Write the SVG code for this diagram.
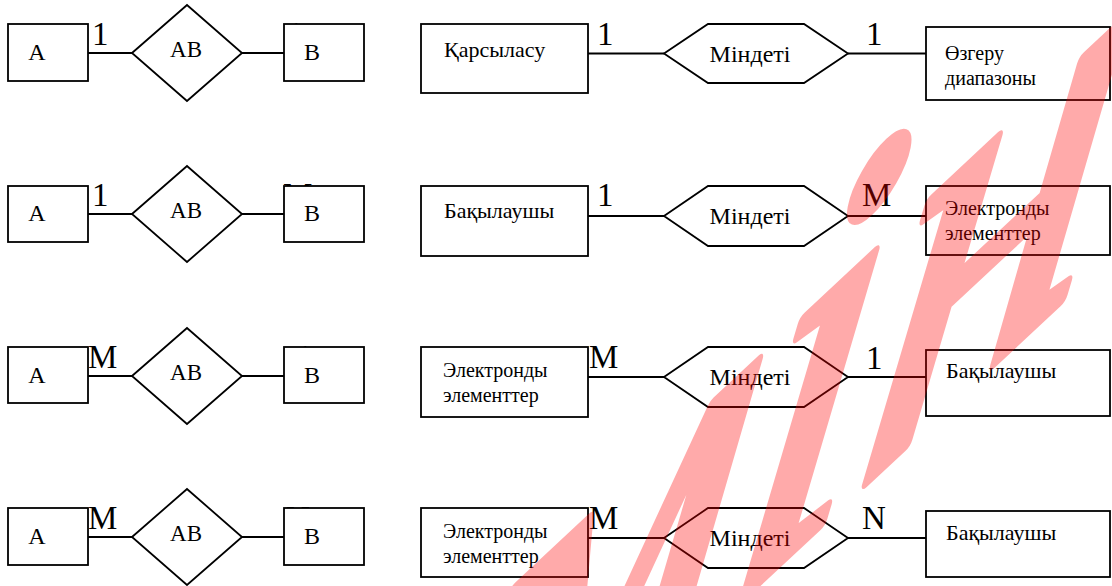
<svg xmlns="http://www.w3.org/2000/svg" width="1112" height="586" viewBox="0 0 1112 586">
  <style>
    .box { fill: #ffffff; stroke: #000000; stroke-width: 1.8; }
    .rel { fill: #ffffff; stroke: #000000; stroke-width: 1.8; stroke-linejoin: miter; }
    .edge { stroke: #000000; stroke-width: 1.8; fill: none; }
    text { font-family: "Liberation Serif", "Times New Roman", serif; fill: #000000; }
    .ent { font-size: 24px; text-anchor: middle; }
    .relt { font-size: 23px; text-anchor: middle; }
    .hext { font-size: 24px; text-anchor: middle; }
    .card { font-size: 33px; }
    .lbl { font-size: 22px; }
    .lbl2 { font-size: 20px; }
    .mark { font-family: "Liberation Serif", serif; font-style: italic; font-size: 480px; fill: #ff0000; stroke: #ff0000; stroke-width: 12; stroke-linejoin: round; }
  </style>

  <rect x="0" y="0" width="1112" height="586" fill="#ffffff"/>

  <!-- connectors -->
  <g id="connectors">
    <line class="edge" x1="88" y1="53" x2="132" y2="53"/>
    <line class="edge" x1="242" y1="53" x2="284" y2="53"/>
    <line class="edge" x1="88" y1="214" x2="132" y2="214"/>
    <line class="edge" x1="242" y1="214" x2="284" y2="214"/>
    <line class="edge" x1="88" y1="376" x2="132" y2="376"/>
    <line class="edge" x1="242" y1="376" x2="284" y2="376"/>
    <line class="edge" x1="88" y1="537" x2="132" y2="537"/>
    <line class="edge" x1="242" y1="537" x2="284" y2="537"/>

    <line class="edge" x1="588" y1="53.5" x2="664" y2="53.5"/>
    <line class="edge" x1="848" y1="53.5" x2="926" y2="53.5"/>
    <line class="edge" x1="588" y1="216" x2="664" y2="216"/>
    <line class="edge" x1="848" y1="216" x2="926" y2="216"/>
    <line class="edge" x1="588" y1="377" x2="664" y2="377"/>
    <line class="edge" x1="848" y1="377" x2="926" y2="377"/>
    <line class="edge" x1="588" y1="538" x2="664" y2="538"/>
    <line class="edge" x1="848" y1="538" x2="926" y2="538"/>
  </g>

  <!-- cardinality labels (those on the B side sit mostly behind the B boxes) -->
  <g id="cardinalities">
    <text class="card" x="92" y="45">1</text>
    <text class="card" x="287" y="45">1</text>
    <text class="card" x="92" y="206">1</text>
    <text class="card" x="283" y="206">M</text>
    <text class="card" x="88" y="368">M</text>
    <text class="card" x="296" y="368">1</text>
    <text class="card" x="88" y="529">M</text>
    <text class="card" x="286" y="529">N</text>

    <text class="card" x="597" y="45">1</text>
    <text class="card" x="866" y="45">1</text>
    <text class="card" x="597" y="206">1</text>
    <text class="card" x="862" y="206">M</text>
    <text class="card" x="589" y="368">M</text>
    <text class="card" x="866" y="369">1</text>
    <text class="card" x="589" y="529">M</text>
    <text class="card" x="862" y="529">N</text>
  </g>

  <!-- left column: A - AB - B -->
  <g id="a1"><rect class="box" x="8" y="24" width="80" height="57"/><text class="ent" x="37" y="60">A</text></g>
  <g id="ab1"><polygon class="rel" points="132,53 187,5 242,53 187,101"/><text class="relt" x="186" y="57">AB</text></g>
  <g id="b1"><rect class="box" x="284" y="24" width="80" height="57"/><text class="ent" x="312" y="60">B</text></g>

  <g id="a2"><rect class="box" x="8" y="186" width="80" height="56"/><text class="ent" x="37" y="221">A</text></g>
  <g id="ab2"><polygon class="rel" points="132,214 187,166 242,214 187,262"/><text class="relt" x="186" y="218">AB</text></g>
  <g id="b2"><rect class="box" x="284" y="186" width="80" height="56"/><text class="ent" x="312" y="221">B</text></g>

  <g id="a3"><rect class="box" x="8" y="347" width="80" height="56"/><text class="ent" x="37" y="383">A</text></g>
  <g id="ab3"><polygon class="rel" points="132,376 187,328 242,376 187,424"/><text class="relt" x="186" y="380">AB</text></g>
  <g id="b3"><rect class="box" x="284" y="347" width="80" height="56"/><text class="ent" x="312" y="383">B</text></g>

  <g id="a4"><rect class="box" x="8" y="508" width="80" height="57"/><text class="ent" x="37" y="544">A</text></g>
  <g id="ab4"><polygon class="rel" points="132,537 187,489 242,537 187,585"/><text class="relt" x="186" y="541">AB</text></g>
  <g id="b4"><rect class="box" x="284" y="508" width="80" height="57"/><text class="ent" x="312" y="544">B</text></g>

  <!-- right column: concrete examples -->
  <g id="qarsylasu"><rect class="box" x="421" y="24" width="167" height="69"/><text class="lbl" x="444" y="57">Қарсыласу</text></g>
  <g id="mindeti1"><polygon class="rel" points="664,53.5 708,24 804,24 848,53.5 804,83 708,83"/><text class="hext" x="750" y="62">Міндеті</text></g>
  <g id="ozgeru"><rect class="box" x="926" y="27" width="184" height="73"/><text class="lbl2" x="945" y="60">Өзгеру</text><text class="lbl2" x="945" y="85">диапазоны</text></g>

  <g id="baqylaushy1"><rect class="box" x="421" y="186" width="167" height="70"/><text class="lbl" x="444" y="218">Бақылаушы</text></g>
  <g id="mindeti2"><polygon class="rel" points="664,216 708,186 804,186 848,216 804,246 708,246"/><text class="hext" x="750" y="224">Міндеті</text></g>
  <g id="elektron1"><rect class="box" x="926" y="186" width="184" height="69"/><text class="lbl2" x="945" y="215">Электронды</text><text class="lbl2" x="945" y="240">элементтер</text></g>

  <g id="elektron2"><rect class="box" x="421" y="347" width="167" height="70"/><text class="lbl2" x="443" y="377">Электронды</text><text class="lbl2" x="443" y="402">элементтер</text></g>
  <g id="mindeti3"><polygon class="rel" points="664,377 708,347 804,347 848,377 804,407 708,407"/><text class="hext" x="750" y="385">Міндеті</text></g>
  <g id="baqylaushy2"><rect class="box" x="926" y="350" width="184" height="66"/><text class="lbl" x="946" y="378">Бақылаушы</text></g>

  <g id="elektron3"><rect class="box" x="421" y="508" width="167" height="69"/><text class="lbl2" x="443" y="538">Электронды</text><text class="lbl2" x="443" y="563">элементтер</text></g>
  <g id="mindeti4"><polygon class="rel" points="664,538 708,508 804,508 848,538 804,568 708,568"/><text class="hext" x="750" y="546">Міндеті</text></g>
  <g id="baqylaushy3"><rect class="box" x="926" y="511" width="184" height="66"/><text class="lbl" x="946" y="540">Бақылаушы</text></g>

  <!-- translucent slanted overlay lettering -->
  <g opacity="0.33">
    <text class="mark" transform="translate(412,905) skewY(-43) skewX(-13)" x="0" y="0">мін</text>
  </g>
</svg>
